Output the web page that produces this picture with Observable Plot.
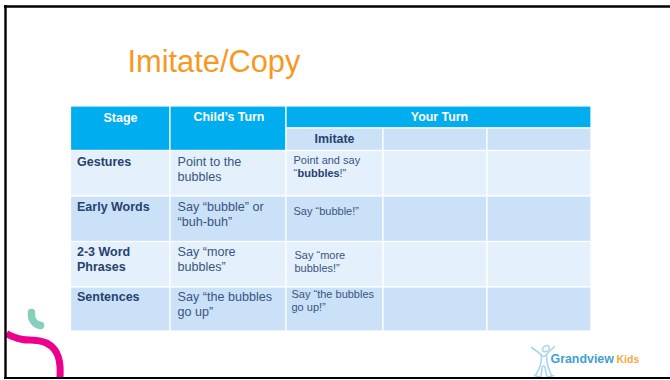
<!DOCTYPE html>
<html><head><meta charset="utf-8">
<script src="https://cdn.jsdelivr.net/npm/d3@7"></script>
<script src="https://cdn.jsdelivr.net/npm/@observablehq/plot@0.6"></script>
<style>html,body{margin:0;padding:0;background:#fff}svg{display:block}</style>
</head><body><script>
const title = "Imitate/Copy";
const stages = ["Gestures", "Early Words", "2-3 Word\nPhrases", "Sentences"];
const childTurn = ["Point to the\nbubbles", "Say “bubble” or\n“buh-buh”", "Say “more\nbubbles”", "Say “the bubbles\ngo up”"];
const imitate = ["Point and say", "Say “bubble!”", "Say “more\nbubbles!”", "Say “the bubbles\ngo up!”"];
const headers = ["Stage", "Child’s Turn", "Your Turn", "Imitate"];
const brand = ["Grandview", "Kids"];

// layout of the slide
const colX = [70.5, 170, 286, 383, 487, 591];
const rowY = [106, 128, 150.5, 196, 241.5, 287, 331];
const HEAD = "#00aeef", LIGHT = "#e4f0fb", MID = "#cae1f8", INK = "#3a5580", BOLD = "#26426f";
const font = "Liberation Sans, Arial, sans-serif";

const cells = [
  {a: 0, b: 1, r0: 0, r1: 2, f: HEAD},
  {a: 1, b: 2, r0: 0, r1: 2, f: HEAD},
  {a: 2, b: 5, r0: 0, r1: 1, f: HEAD}
];
for (let c = 2; c < 5; c++) cells.push({a: c, b: c + 1, r0: 1, r1: 2, f: MID});
for (let r = 0; r < 4; r++) for (let c = 0; c < 5; c++)
  cells.push({a: c, b: c + 1, r0: r + 2, r1: r + 3, f: r % 2 ? MID : LIGHT});

const firstLine = [154.5, 200, 245, 290];
const stageRows = stages.map((t, i) => ({t, x: 76.5, y: firstLine[i]}));
const childRows = childTurn.map((t, i) => ({t, x: 177, y: firstLine[i]}));
const imitOff = [[293, 154], [293, 205], [294, 249], [291, 288]];
const imitRows = imitate.map((t, i) => ({t, x: imitOff[i][0], y: imitOff[i][1]}));

const pink = [[6,333],[12,336],[22,339],[36,340],[46,342.5],[54,349],[58,357],[59.5,366],[59.5,378]];
const teal = [[31,312],[31.5,318],[35,323],[40,325]];
const figure = [
  [[531,347],[538,352],[543,356],[548,352],[554,346]],
  [[543,346.5],[547,345],[549,348],[546,351],[542,350],[543,346.5]],
  [[541,354],[540,364],[535,375]],
  [[546,354],[547,364],[551,375]],
  [[534,375],[540,376],[542,366],[544,366],[547,376],[553,375]]
];
const toPts = (arr, id) => arr.map(([x, y]) => ({x, y, id}));

const chart = Plot.plot({
  width: 670, height: 380,
  margin: 0,
  x: {domain: [0, 670], range: [0, 670], axis: null},
  y: {domain: [0, 380], range: [0, 380], axis: null},
  style: {background: "#fff", fontFamily: font},
  marks: [
    Plot.rect(cells, {
      x1: d => colX[d.a], x2: d => colX[d.b],
      y1: d => rowY[d.r0], y2: d => rowY[d.r1],
      fill: d => d.f, stroke: "#fff", strokeWidth: 1.2
    }),
    Plot.text([title], {x: 127, y: 62, text: d => d, fill: "#f7981f", fontSize: 30.8, textAnchor: "start", lineAnchor: "middle"}),
    Plot.text([headers[0]], {x: 120, y: 117, text: d => d, fill: "#fff", fontWeight: "bold", fontSize: 12.5}),
    Plot.text([headers[1]], {x: 228.5, y: 117, text: d => d, fill: "#fff", fontWeight: "bold", fontSize: 12.4}),
    Plot.text([headers[2]], {x: 439, y: 117, text: d => d, fill: "#fff", fontWeight: "bold", fontSize: 12.4}),
    Plot.text([headers[3]], {x: 334, y: 139, text: d => d, fill: BOLD, fontWeight: "bold", fontSize: 12.4}),
    Plot.text(stageRows, {x: "x", y: "y", text: "t", fill: BOLD, fontWeight: "bold", fontSize: 12.5, textAnchor: "start", lineAnchor: "top", lineHeight: 1.19}),
    Plot.text(childRows, {x: "x", y: "y", text: "t", fill: INK, fontSize: 12.6, textAnchor: "start", lineAnchor: "top", lineHeight: 1.19}),
    Plot.text(imitRows, {x: "x", y: "y", text: "t", fill: INK, fontSize: 11, textAnchor: "start", lineAnchor: "top", lineHeight: 1.19}),
    Plot.text(["“"], {x: 293, y: 173, text: d => d, fill: INK, fontSize: 11, textAnchor: "start"}),
    Plot.text(["bubbles"], {x: 297, y: 173, text: d => d, fill: BOLD, fontWeight: "bold", fontSize: 11, textAnchor: "start"}),
    Plot.text(["!”"], {x: 339, y: 173, text: d => d, fill: INK, fontSize: 11, textAnchor: "start"}),
    Plot.line(toPts(pink, "p"), {x: "x", y: "y", stroke: "#ec008c", strokeWidth: 7, strokeLinecap: "butt", curve: "catmull-rom"}),
    Plot.line(toPts(teal, "t"), {x: "x", y: "y", stroke: "#86cfbd", strokeWidth: 7.5, strokeLinecap: "round", curve: "catmull-rom"}),
    ...figure.map((f, i) => Plot.line(toPts(f, "f" + i), {x: "x", y: "y", stroke: "#a8d6ef", strokeWidth: 1.6, curve: "catmull-rom"})),
    Plot.text([brand[0]], {x: 550, y: 359, text: d => d, fill: "#3f9fd2", fontWeight: "bold", fontSize: 12.4, textAnchor: "start"}),
    Plot.text([brand[1]], {x: 616, y: 359, text: d => d, fill: "#f5a944", fontWeight: "bold", fontSize: 10.5, textAnchor: "start"}),
    Plot.ruleY([6], {x1: 4, x2: 670, stroke: "#000", strokeWidth: 2.4}),
    Plot.ruleY([377.5], {x1: 4, x2: 670, stroke: "#000", strokeWidth: 2}),
    Plot.ruleX([5], {y1: 5, y2: 378, stroke: "#000", strokeWidth: 2.4})
  ]
});
document.body.appendChild(chart);
</script></body></html>
